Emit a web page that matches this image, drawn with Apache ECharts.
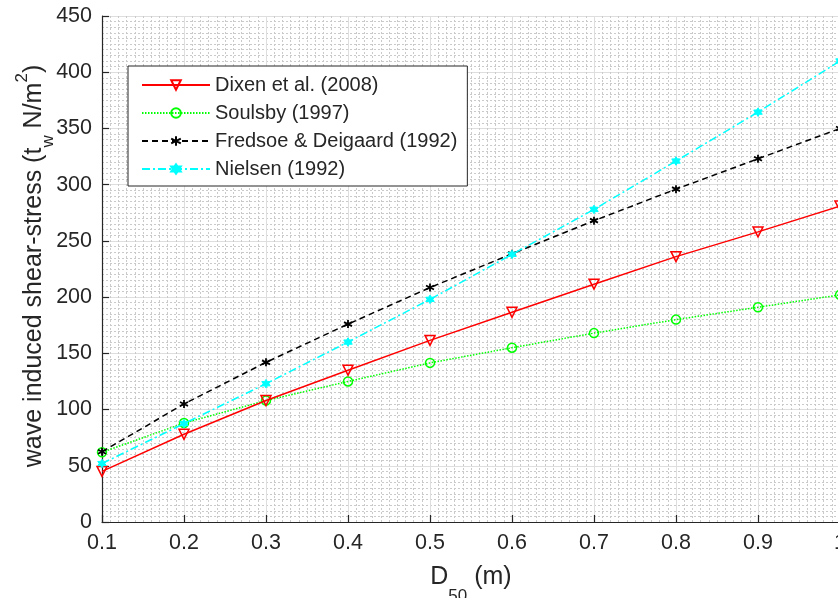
<!DOCTYPE html>
<html>
<head>
<meta charset="utf-8">
<script src="https://cdn.jsdelivr.net/npm/echarts@6/dist/echarts.min.js"></script>
<style>
  html, body { margin: 0; padding: 0; background: #fff; }
  #chart { width: 838px; height: 598px; }
</style>
</head>
<body>
<div id="chart"></div>
<script>
// Median grain size D50 (m)
const d50 = [0.1, 0.2, 0.3, 0.4, 0.5, 0.6, 0.7, 0.8, 0.9, 1.0];

// Wave induced shear stress (N/m^2) for each formulation
const dixen   = [45, 78, 108, 135, 161.5, 186.5, 211.5, 236, 258, 281];
const soulsby = [62, 88, 108, 125, 141.5, 155, 168, 180, 191, 202];
const fredsoe = [62.5, 105, 142, 176, 208.5, 238.5, 268, 296, 323, 350];
const nielsen = [52, 87.5, 123, 160, 198, 238, 278, 321, 364.5, 410];

const seriesNames = ['Dixen et al. (2008)', 'Soulsby (1997)', 'Fredsoe & Deigaard (1992)', 'Nielsen (1992)'];

const FONT = '"Liberation Sans", Arial, Helvetica, sans-serif';
const INK = '#262626';

// six-pointed star symbol
function hexagramPath() {
  const pts = [];
  for (let k = 0; k < 12; k++) {
    const a = -Math.PI / 2 + k * Math.PI / 6;
    const r = k % 2 === 0 ? 10 : 5.8;
    pts.push((10 + r * Math.cos(a)).toFixed(2) + ',' + (10 + r * Math.sin(a)).toFixed(2));
  }
  return 'path://M' + pts.join('L') + 'Z';
}
const asteriskPath = 'path://M5,0L5,10M0.67,2.5L9.33,7.5M0.67,7.5L9.33,2.5';

function pairs(ys) { return d50.map((x, i) => [x, ys[i]]); }

const chart = echarts.init(document.getElementById('chart'), null, { renderer: 'canvas' });

const axisCommon = {
  axisLine: { show: true, onZero: false, lineStyle: { color: INK, width: 1.2 } },
  axisTick: { show: true, inside: true, length: 7, lineStyle: { color: INK, width: 1.2 } },
  axisLabel: { color: INK, fontSize: 21.5, fontFamily: FONT },
  splitLine: { show: true, lineStyle: { color: '#dedede', width: 1 } },
  minorTick: { show: false, splitNumber: 10 },
  minorSplitLine: { show: true, lineStyle: { color: '#cacaca', width: 1, type: [2, 2] } }
};

chart.setOption({
  backgroundColor: '#fff',
  animation: false,
  grid: { left: 102, width: 738, top: 16, height: 506, containLabel: false, outerBoundsMode: 'none' },
  xAxis: Object.assign({}, axisCommon, {
    type: 'value', min: 0.1, max: 1, interval: 0.1,
    axisLabel: Object.assign({}, axisCommon.axisLabel, {
      margin: 10,
      formatter: v => String(+v.toFixed(1))
    })
  }),
  yAxis: Object.assign({}, axisCommon, {
    type: 'value', min: 0, max: 450, interval: 50,
    axisLabel: Object.assign({}, axisCommon.axisLabel, { margin: 10 })
  }),
  legend: {
    orient: 'vertical',
    left: 128, top: 66,
    padding: [9, 10, 7, 13],
    itemWidth: 68, itemHeight: 12, itemGap: 8,
    backgroundColor: '#fff',
    borderColor: INK, borderWidth: 1,
    textStyle: { color: INK, fontSize: 20, fontFamily: FONT, lineHeight: 20, padding: [0, 0, 0, 0] },
    data: seriesNames
  },
  graphic: [
    {
      type: 'text', x: 471, y: 577.5, z: 10,
      style: {
        text: '{n|D}{s|50}{n| (m)}',
        align: 'center', verticalAlign: 'middle',
        fill: INK,
        rich: {
          n: { fontSize: 25, fontFamily: FONT, fill: INK, lineHeight: 54, verticalAlign: 'middle' },
          s: { fontSize: 17, fontFamily: FONT, fill: INK, lineHeight: 16, verticalAlign: 'bottom' }
        }
      }
    },
    {
      type: 'text', x: 34, y: 266, rotation: Math.PI / 2, z: 10,
      style: {
        text: '{n|wave induced shear-stress (t}{s|w}{n| N/m}{p|2}{n|)}',
        align: 'center', verticalAlign: 'middle',
        fill: INK,
        rich: {
          n: { fontSize: 25, fontFamily: FONT, fill: INK, lineHeight: 46, verticalAlign: 'middle' },
          s: { fontSize: 17, fontFamily: FONT, fill: INK, lineHeight: 16, verticalAlign: 'bottom' },
          p: { fontSize: 17, fontFamily: FONT, fill: INK, verticalAlign: 'top', padding: [3, 0, 0, 0] }
        }
      }
    }
  ],
  series: [
    {
      name: seriesNames[0], type: 'line', data: pairs(dixen),
      symbol: 'triangle', symbolRotate: 180, symbolSize: 10,
      lineStyle: { color: '#ff0000', width: 1.5, type: 'solid' },
      itemStyle: { color: 'rgba(255,255,255,0)', borderColor: '#ff0000', borderWidth: 1.5 },
      z: 4
    },
    {
      name: seriesNames[1], type: 'line', data: pairs(soulsby),
      symbol: 'circle', symbolSize: 9,
      lineStyle: { color: '#00ff00', width: 1.5, type: [1.5, 1.5] },
      itemStyle: { color: 'rgba(255,255,255,0)', borderColor: '#00ff00', borderWidth: 1.5 },
      z: 3
    },
    {
      name: seriesNames[2], type: 'line', data: pairs(fredsoe),
      symbol: asteriskPath, symbolSize: 8,
      lineStyle: { color: '#000000', width: 1.5, type: [6, 4] },
      itemStyle: { color: '#000000', borderColor: '#000000', borderWidth: 1.8 },
      z: 5
    },
    {
      name: seriesNames[3], type: 'line', data: pairs(nielsen),
      symbol: hexagramPath(), symbolSize: 8.5,
      lineStyle: { color: '#00ffff', width: 1.5, type: [8, 3, 2, 3] },
      itemStyle: { color: '#00ffff', borderColor: '#00ffff', borderWidth: 1 },
      z: 6
    }
  ]
});
</script>
</body>
</html>
